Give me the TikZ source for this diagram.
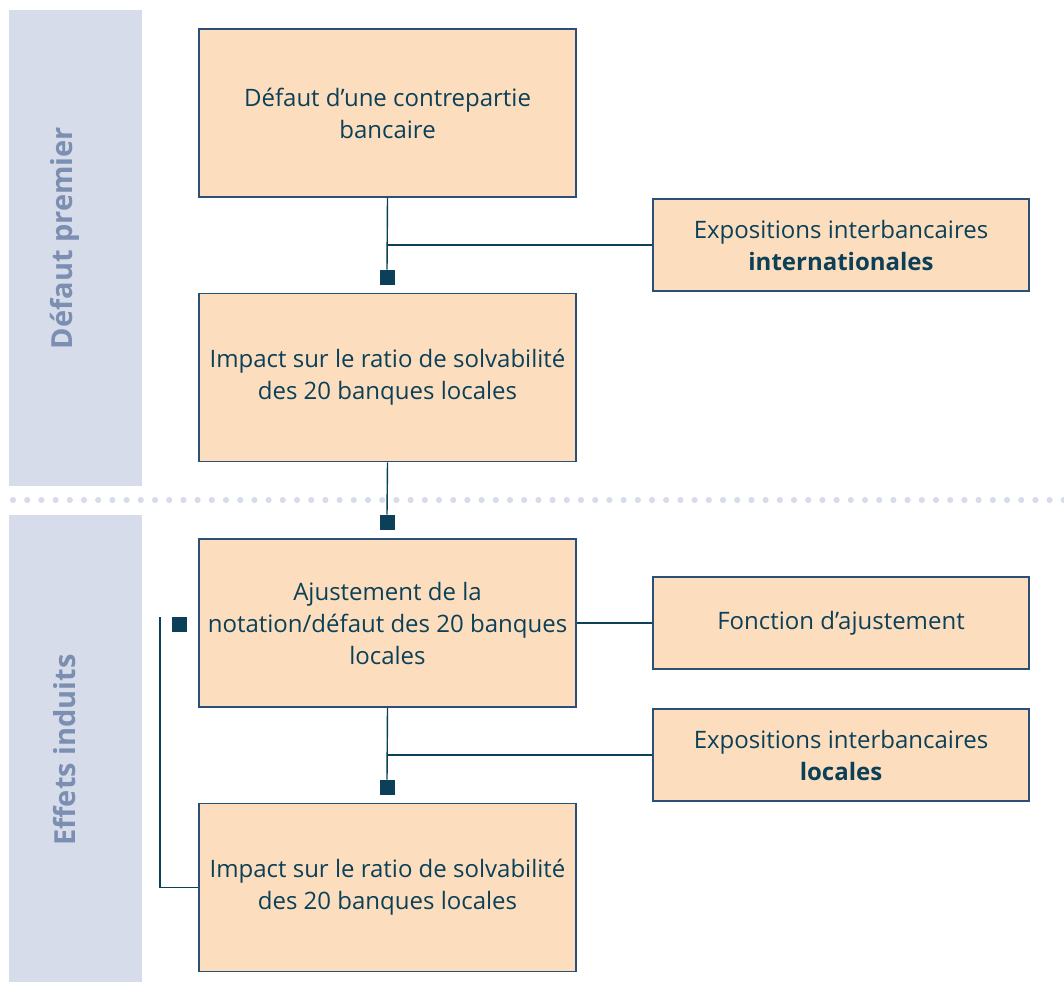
\documentclass[tikz,border=0pt]{standalone}
\usepackage{fontspec}
\setmainfont{Open Sans}
\usetikzlibrary{positioning}
\definecolor{peach}{HTML}{FCDEBE}
\definecolor{boxline}{HTML}{2B5078}
\definecolor{navy}{HTML}{0B4058}
\definecolor{band}{HTML}{D6DCE9}
\definecolor{bandtext}{HTML}{7C8FB2}
\tikzset{
	box/.style={draw=boxline,fill=peach,line width=0.8pt,text=navy,align=center,inner sep=0pt,
		minimum width=188.5pt,minimum height=84pt,font=\fontsize{12}{16}\selectfont},
	sidebox/.style={box,minimum width=188pt,minimum height=46pt},
	sq/.style={fill=navy,inner sep=0pt,minimum size=7.5pt},
	link/.style={draw=navy,line width=0.7pt},
	bandlabel/.style={rotate=90,text=bandtext,font=\fontsize{14.5}{17}\selectfont\bfseries}
}
\begin{document}
\begin{tikzpicture}[x=0.5pt,y=-0.5pt]
	\useasboundingbox (0,0) rectangle (1064,982);
	
	% bands
	\fill[band] (9,10) rectangle (142,486);
	\fill[band] (9,515) rectangle (142,982);
	\node[bandlabel] (lblpremier) at (65,238) {Défaut premier};
	\node[bandlabel] (lblinduits) at (65,750) {Effets induits};
	
	% dotted separator
	\foreach \i in {0,...,74}
		\fill[band] (13+\i*14.2,500) circle (1.55pt);
	
	\node[box] (defaut) at (387.5,113) {Défaut d’une contrepartie\\bancaire};
	\node[box] (impacta) at (387.5,377.5) {Impact sur le ratio de solvabilité\\des 20 banques locales};
	\node[box] (ajust) at (387.5,623) {Ajustement de la\\notation/défaut des 20 banques\\locales};
	\node[box] (impactb) at (387.5,887.5) {Impact sur le ratio de solvabilité\\des 20 banques locales};
	
	\node[sidebox] (expint) at (841,245) {Expositions interbancaires\\\textbf{internationales}};
	\node[sidebox] (fonction) at (841,623) {Fonction d’ajustement};
	\node[sidebox] (exploc) at (841,755) {Expositions interbancaires\\\textbf{locales}};
	
	\node[sq] (sqa) at (387,277.5) {};
	\node[sq] (sqb) at (387,522.5) {};
	\node[sq] (sqc) at (387,787.5) {};
	\node[sq] (sqd) at (179.5,624.5) {};
	\coordinate (retour) at (160,617);
	
	\draw[link] (defaut.south) -- (sqa.north);
	\draw[link] (expint.west) -- (defaut.south |- expint.west);
	\draw[link] (impacta.south) -- (sqb.north);
	\draw[link] (ajust.east) -- (fonction.west);
	\draw[link] (ajust.south) -- (sqc.north);
	\draw[link] (exploc.west) -- (ajust.south |- exploc.west);
	\draw[link] (impactb.west) -| (retour);
\end{tikzpicture}
\end{document}
